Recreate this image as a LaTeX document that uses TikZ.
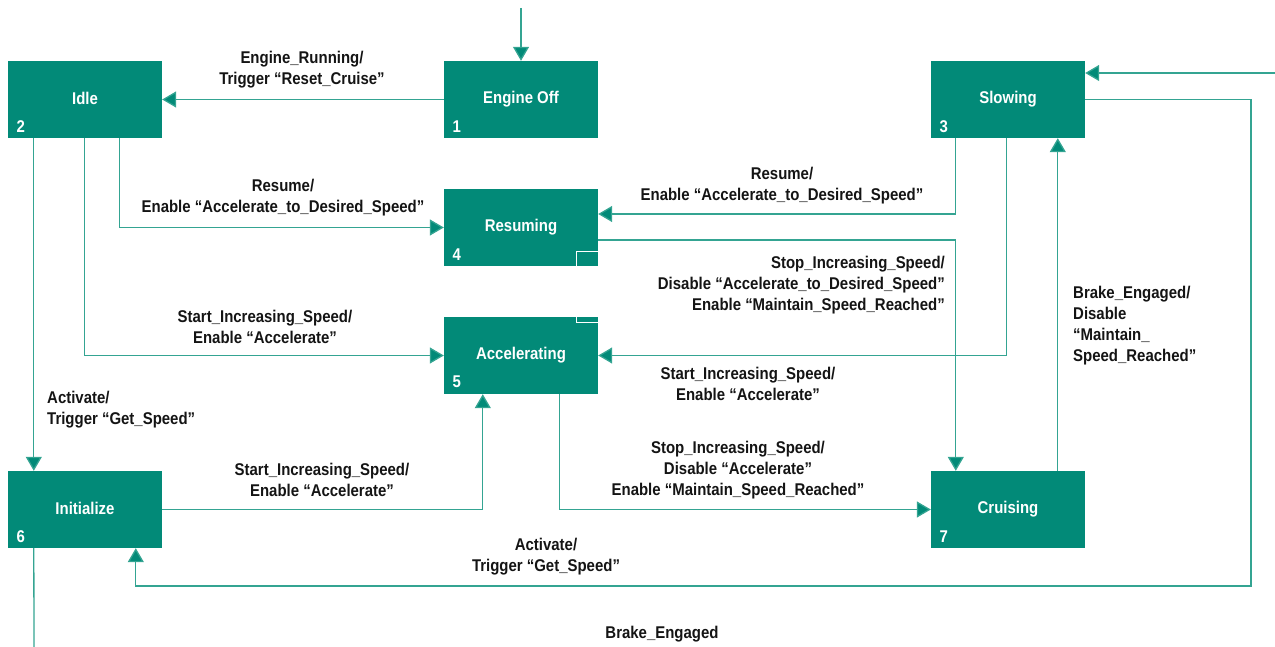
\documentclass[tikz,border=0pt]{standalone}
\usepackage{fontspec}
\setmainfont{Liberation Sans}[FakeStretch=0.88]
\usetikzlibrary{arrows.meta}
\definecolor{boxteal}{RGB}{2,138,120}
\definecolor{lineteal}{RGB}{52,164,146}
\definecolor{ink}{RGB}{20,20,20}
\tikzset{
  state/.style={fill=boxteal, draw=none, minimum width=154pt, minimum height=77pt,
    inner sep=0pt, text=white, font=\fontsize{17}{21}\selectfont\bfseries},
  num/.style={text=white, inner sep=0pt, font=\fontsize{17}{21}\selectfont\bfseries},
  conn/.style={draw=lineteal, line width=1.3pt,
    -{Triangle[length=14pt,width=16pt,fill=boxteal]}},
  plain/.style={draw=lineteal, line width=1.3pt},
  lbl/.style={text=ink, inner sep=0pt, align=center,
    font=\fontsize{17}{21}\selectfont\bfseries},
  lbll/.style={lbl, align=left},
  lblr/.style={lbl, align=right},
}
\begin{document}
\begin{tikzpicture}[x=1pt, y=-1pt]
\useasboundingbox (0,0) rectangle (1275,647);

% states
\node[state] (idle) at (85,99.5)   {\raisebox{1.5pt}{Idle}};
\node[state] (off)  at (521,99.5)  {\raisebox{1.5pt}{Engine Off}};
\node[state] (slow) at (1008,99.5) {\raisebox{1.5pt}{Slowing}};
\node[state] (res)  at (521,227.5) {\raisebox{1.5pt}{Resuming}};
\node[state] (acc)  at (521,355.5) {\raisebox{1.5pt}{Accelerating}};
\node[state] (init) at (85,509.5)  {\raisebox{1.5pt}{Initialize}};
\node[state] (cru)  at (1008,509.5){\raisebox{1.5pt}{Cruising}};

% state numbers
\node[num] (n2) at ([xshift=13pt,yshift=12pt]idle.south west) {2};
\node[num] (n1) at ([xshift=13pt,yshift=12pt]off.south west) {1};
\node[num] (n3) at ([xshift=13pt,yshift=12pt]slow.south west) {3};
\node[num] (n4) at ([xshift=13pt,yshift=12pt]res.south west) {4};
\node[num] (n5) at ([xshift=13pt,yshift=12pt]acc.south west) {5};
\node[num] (n6) at ([xshift=13pt,yshift=12pt]init.south west) {6};
\node[num] (n7) at ([xshift=13pt,yshift=12pt]cru.south west) {7};

% free ends
\coordinate (tin)  at (521,8);
\coordinate (rin)  at (1275,73);
\coordinate (loop) at (1251,586);
\coordinate (bout) at (34,647);

% transitions
\draw[conn] (tin) -- (off.north);
\draw[conn] (rin) -- (rin -| slow.east);
\draw[conn] (off.west) -- (idle.east);
\draw[conn] ([xshift=112pt]idle.south west) |- (res.west);
\draw[conn] ([xshift=77pt]idle.south west) |- (acc.west);
\draw[conn] ([xshift=26pt]idle.south west) -- ([xshift=26pt]init.north west);
\draw[plain] ([xshift=26pt]init.south west) -- (bout);
\draw[conn] (init.east) -| ([xshift=39pt]acc.south west);
\draw[conn] ([xshift=116pt]acc.south west) |- (cru.west);
\draw[conn] ([yshift=-12.5pt]res.east) -| ([xshift=25pt]cru.north west);
\draw[conn] ([xshift=25pt]slow.south west) |- ([yshift=13.5pt]res.east);
\draw[conn] ([xshift=76pt]slow.south west) |- (acc.east);
\draw[conn] ([xshift=127pt]cru.north west) -- ([xshift=127pt]slow.south west);
\draw[conn] (slow.east) -| (loop) -| ([xshift=128pt]init.south west);

% white corner marks on the Resuming / Accelerating boxes
\draw[white, line width=1.3pt] ([xshift=-22pt]res.south east) |- ([yshift=15pt]res.south east);
\draw[white, line width=1.3pt] ([xshift=-22pt]acc.north east) |- ([yshift=-6pt]acc.north east);

% transition labels
\node[lbl] (l1) at (302,70) {Engine\_Running/\\Trigger “Reset\_Cruise”};
\node[lbl] (l2) at (283,197.5) {Resume/\\Enable “Accelerate\_to\_Desired\_Speed”};
\node[lbl] (l3) at (265,327) {Start\_Increasing\_Speed/\\Enable “Accelerate”};
\node[lbll, anchor=west] (l4) at (47,410) {Activate/\\Trigger “Get\_Speed”};
\node[lbl] (l5) at (322,480) {Start\_Increasing\_Speed/\\Enable “Accelerate”};
\node[lbl] (l6) at (782,186) {Resume/\\Enable “Accelerate\_to\_Desired\_Speed”};
\node[lblr, anchor=east] (l7) at (945,285) {Stop\_Increasing\_Speed/\\Disable “Accelerate\_to\_Desired\_Speed”\\Enable “Maintain\_Speed\_Reached”};
\node[lbl] (l8) at (748,384) {Start\_Increasing\_Speed/\\Enable “Accelerate”};
\node[lbll, anchor=west] (l9) at (1073,326) {Brake\_Engaged/\\Disable\\“Maintain\_\\Speed\_Reached”};
\node[lbl] (l10) at (738,470) {Stop\_Increasing\_Speed/\\Disable “Accelerate”\\Enable “Maintain\_Speed\_Reached”};
\node[lbl] (l11) at (546,557) {Activate/\\Trigger “Get\_Speed”};
\node[lbl] (l12) at (662,634) {Brake\_Engaged};
\end{tikzpicture}
\end{document}
